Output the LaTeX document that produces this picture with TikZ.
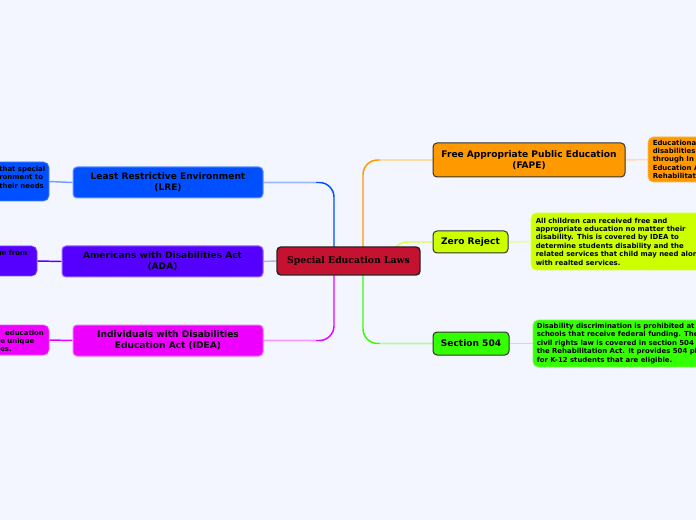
\documentclass[tikz,border=0pt]{standalone}
\usepackage{fontspec}
\setmainfont{DejaVu Sans}
\newfontfamily\ctrfont{DejaVu Serif}
\usetikzlibrary{backgrounds,calc}
\definecolor{bg}{HTML}{F3F6FE}
\definecolor{cLRE}{HTML}{0050FF}
\definecolor{cADA}{HTML}{5500FF}
\definecolor{cIDEA}{HTML}{EE00FF}
\definecolor{cFAPE}{HTML}{FF9900}
\definecolor{cZero}{HTML}{CCFF00}
\definecolor{cSec}{HTML}{33FF00}
\definecolor{cCtr}{HTML}{C41230}
\definecolor{edge}{HTML}{333333}
\begin{document}
\begin{tikzpicture}[x=0.75pt,y=-0.75pt,
  box/.style={rounded corners=3pt, inner sep=0pt, align=center, line width=0.75pt,
    font=\bfseries\fontsize{6.8}{8.25}\selectfont},
  leftbox/.style={box, fill=#1, draw=#1!60!white},
  rightbox/.style={box, fill=#1, draw=edge},
  dbox/.style={rounded corners=4pt, inner sep=0pt, fill=#1, draw=#1!70!white, line width=0.5pt},
  dtext/.style={inner sep=0pt, align=left, anchor=north west,
    font=\bfseries\fontsize{5.2}{6.3}\selectfont},
  conn/.style={draw=#1, line width=1.1pt},
  conns/.style={draw=#1, line width=1.1pt, rounded corners=11pt}]
\useasboundingbox (0,0) rectangle (696,520);
\begin{pgfonlayer}{background}
  \fill[bg] (0,0) rectangle (696,520);
\end{pgfonlayer}
\clip (0,0) rectangle (696,520);

% centre
\node[box, fill=cCtr, draw=black!85, line width=1.1pt, minimum width=107.25pt, minimum height=21pt,
  font=\ctrfont\bfseries\fontsize{6.95}{8}\selectfont] (ctr) at (348.5,261) {Special Education Laws};
\coordinate (jl) at (334,261);
\coordinate (jr) at (363,261);
\coordinate (jz) at (392,252);

% left main nodes
\node[leftbox=cLRE, minimum width=142.5pt, minimum height=23.25pt] (lre) at (168,182.5) {Least Restrictive Environment\\(LRE)};
\node[leftbox=cADA, minimum width=150.75pt, minimum height=23.25pt] (ada) at (162.5,261.5) {Americans with Disabilities Act\\(ADA)};
\node[leftbox=cIDEA, minimum width=142.5pt, minimum height=23.25pt] (idea) at (168,340.5) {Individuals with Disabilities\\Education Act (IDEA)};

% right main nodes
\node[rightbox=cFAPE, minimum width=144pt, minimum height=25.5pt] (fape) at (529,160) {Free Appropriate Public Education\\(FAPE)};
\node[rightbox=cZero, minimum width=56.25pt, minimum height=16.5pt] (zero) at (470.5,242) {Zero Reject};
\node[rightbox=cSec, minimum width=57pt, minimum height=17.25pt] (sec) at (471,343.5) {Section 504};

% detail boxes
\node[dbox=cLRE, minimum width=81.75pt, minimum height=29.25pt] (lred) at (-5.5,181.5) {};
\node[dtext] (lredt) at (-1,166) {that special\\ronment to\\their needs};
\node[dbox=cADA, minimum width=72.75pt, minimum height=22.5pt] (adad) at (-11.5,261) {};
\node[dtext] (adadt) at (-1,250) {m from};
\node[dbox=cIDEA, minimum width=81.75pt, minimum height=22.5pt] (idead) at (-5.5,340) {};
\node[dtext] (ideadt) at (0,329.5) {\hspace*{0.7em}education\\e unique\\es.};

\node[dbox=cFAPE, minimum width=84pt, minimum height=33.75pt] (faped) at (704,159.5) {};
\node[dtext] (fapedt) at (652.5,139.5) {Educational\\disabilities\\through In\\Education A\\Rehabilitat};
\node[dbox=cZero, minimum width=171.75pt, minimum height=42.75pt] (zerod) at (645.5,241.5) {};
\node[dtext] (zerodt) at (535.5,217.5) {All children can received free and\\appropriate education no matter their\\disability. This is covered by IDEA to\\determine students disability and the\\related services that child may need along\\with realted services.};
\node[dbox=cSec, minimum width=170.25pt, minimum height=35.25pt] (secd) at (646.5,343.5) {};
\node[dtext] (secdt) at (536.5,323) {Disability discrimination is prohibited at\\schools that receive federal funding. The\\civil rights law is covered in section 504\\the Rehabilitation Act. It provides 504 pl\\for K-12 students that are eligible.};

% connectors
\begin{pgfonlayer}{background}
  \path[conns=cLRE] (jl) |- (lre.east);
  \path[conn=cLRE!40!white] (lre.east) -- ($(lre.east)!0.75!(lre.east -| jl)$);
  \path[conns=cIDEA] (jl) |- (idea.east);
  \path[conn=cIDEA!40!white] (idea.east) -- ($(idea.east)!0.75!(idea.east -| jl)$);
  \path[conn=cADA!35!white] (ctr.west) -- (ada.east);
  \path[conns=cFAPE] (jr) |- (fape.west);
  \path[conn=cFAPE!35!white] (fape.west) -- ($(fape.west)!0.75!(fape.west -| jr)$);
  \path[conns=cSec] (jr) |- (sec.west);
  \path[conn=cSec!40!white] (sec.west) -- ($(sec.west)!0.75!(sec.west -| jr)$);
  \path[conn=cZero!70!white] (jz) to[out=60,in=180] ($(zero.west)+(-24,0)$) -- (zero.west);
  % detail connectors
  \path[conn=cLRE!55!white] (lre.west) -- (lred.east);
  \path[conn=cADA] (ada.west) -- (adad.east);
  \path[conn=cIDEA] (idea.west) -- (idead.east);
  \path[conn=cFAPE!35!white] (fape.east) -- (faped.west);
  \path[conn=cZero!45!white] (zero.east) -- (zerod.west);
  \path[conn=cSec!45!white] (sec.east) -- (secd.west);
\end{pgfonlayer}
\end{tikzpicture}
\end{document}
